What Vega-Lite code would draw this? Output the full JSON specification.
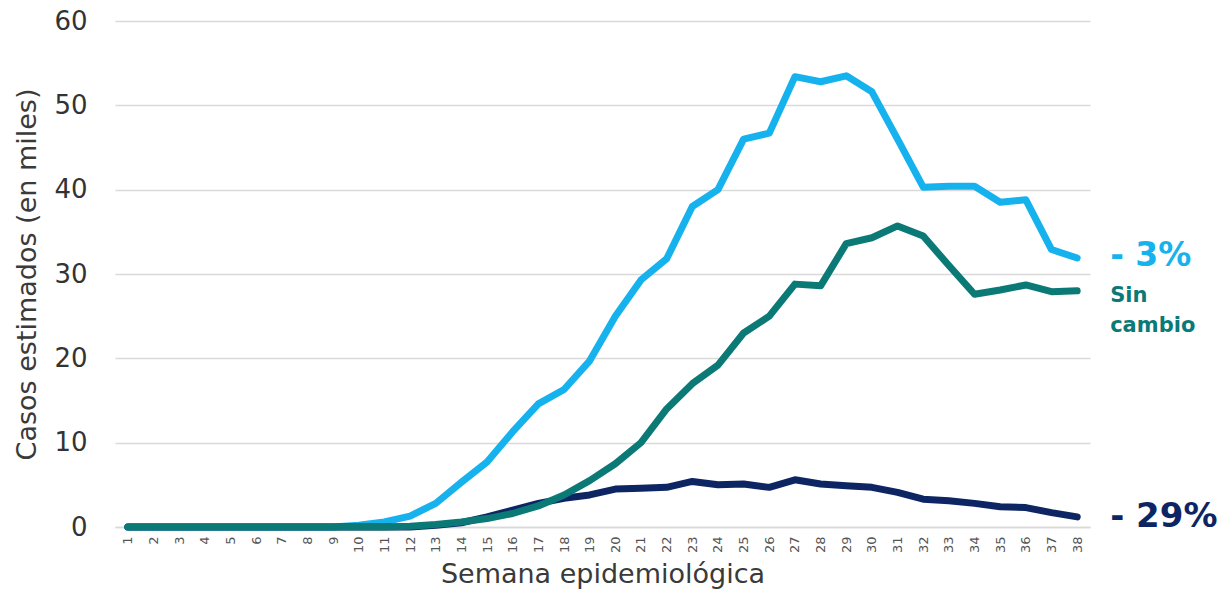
{
  "$schema": "https://vega.github.io/schema/vega-lite/v6.json",
  "width": 975,
  "height": 506,
  "autosize": "none",
  "padding": {"left": 115, "top": 21, "right": 132, "bottom": 73},
  "background": "white",
  "config": {
    "view": {"stroke": null},
    "font": "DejaVu Sans"
  },
  "datasets": {
    "series": [
      {"week": 1, "serie": "- 3%", "value": 0}, {"week": 2, "serie": "- 3%", "value": 0}, {"week": 3, "serie": "- 3%", "value": 0}, {"week": 4, "serie": "- 3%", "value": 0}, {"week": 5, "serie": "- 3%", "value": 0}, {"week": 6, "serie": "- 3%", "value": 0}, {"week": 7, "serie": "- 3%", "value": 0}, {"week": 8, "serie": "- 3%", "value": 0}, {"week": 9, "serie": "- 3%", "value": 0}, {"week": 10, "serie": "- 3%", "value": 0.2},
      {"week": 11, "serie": "- 3%", "value": 0.6}, {"week": 12, "serie": "- 3%", "value": 1.3}, {"week": 13, "serie": "- 3%", "value": 2.8}, {"week": 14, "serie": "- 3%", "value": 5.3}, {"week": 15, "serie": "- 3%", "value": 7.7}, {"week": 16, "serie": "- 3%", "value": 11.3}, {"week": 17, "serie": "- 3%", "value": 14.6}, {"week": 18, "serie": "- 3%", "value": 16.3}, {"week": 19, "serie": "- 3%", "value": 19.7}, {"week": 20, "serie": "- 3%", "value": 25.0},
      {"week": 21, "serie": "- 3%", "value": 29.3}, {"week": 22, "serie": "- 3%", "value": 31.8}, {"week": 23, "serie": "- 3%", "value": 38.0}, {"week": 24, "serie": "- 3%", "value": 40.0}, {"week": 25, "serie": "- 3%", "value": 46.0}, {"week": 26, "serie": "- 3%", "value": 46.7}, {"week": 27, "serie": "- 3%", "value": 53.4}, {"week": 28, "serie": "- 3%", "value": 52.8}, {"week": 29, "serie": "- 3%", "value": 53.5}, {"week": 30, "serie": "- 3%", "value": 51.6},
      {"week": 31, "serie": "- 3%", "value": 46.0}, {"week": 32, "serie": "- 3%", "value": 40.3}, {"week": 33, "serie": "- 3%", "value": 40.4}, {"week": 34, "serie": "- 3%", "value": 40.4}, {"week": 35, "serie": "- 3%", "value": 38.5}, {"week": 36, "serie": "- 3%", "value": 38.8}, {"week": 37, "serie": "- 3%", "value": 32.9}, {"week": 38, "serie": "- 3%", "value": 31.9},

      {"week": 1, "serie": "- 29%", "value": 0}, {"week": 2, "serie": "- 29%", "value": 0}, {"week": 3, "serie": "- 29%", "value": 0}, {"week": 4, "serie": "- 29%", "value": 0}, {"week": 5, "serie": "- 29%", "value": 0}, {"week": 6, "serie": "- 29%", "value": 0}, {"week": 7, "serie": "- 29%", "value": 0}, {"week": 8, "serie": "- 29%", "value": 0}, {"week": 9, "serie": "- 29%", "value": 0}, {"week": 10, "serie": "- 29%", "value": 0},
      {"week": 11, "serie": "- 29%", "value": 0}, {"week": 12, "serie": "- 29%", "value": 0}, {"week": 13, "serie": "- 29%", "value": 0.2}, {"week": 14, "serie": "- 29%", "value": 0.5}, {"week": 15, "serie": "- 29%", "value": 1.2}, {"week": 16, "serie": "- 29%", "value": 2.0}, {"week": 17, "serie": "- 29%", "value": 2.8}, {"week": 18, "serie": "- 29%", "value": 3.4}, {"week": 19, "serie": "- 29%", "value": 3.8}, {"week": 20, "serie": "- 29%", "value": 4.5},
      {"week": 21, "serie": "- 29%", "value": 4.6}, {"week": 22, "serie": "- 29%", "value": 4.7}, {"week": 23, "serie": "- 29%", "value": 5.4}, {"week": 24, "serie": "- 29%", "value": 5.0}, {"week": 25, "serie": "- 29%", "value": 5.1}, {"week": 26, "serie": "- 29%", "value": 4.7}, {"week": 27, "serie": "- 29%", "value": 5.6}, {"week": 28, "serie": "- 29%", "value": 5.1}, {"week": 29, "serie": "- 29%", "value": 4.9}, {"week": 30, "serie": "- 29%", "value": 4.7},
      {"week": 31, "serie": "- 29%", "value": 4.1}, {"week": 32, "serie": "- 29%", "value": 3.3}, {"week": 33, "serie": "- 29%", "value": 3.1}, {"week": 34, "serie": "- 29%", "value": 2.8}, {"week": 35, "serie": "- 29%", "value": 2.4}, {"week": 36, "serie": "- 29%", "value": 2.3}, {"week": 37, "serie": "- 29%", "value": 1.7}, {"week": 38, "serie": "- 29%", "value": 1.2},

      {"week": 1, "serie": "Sin cambio", "value": 0}, {"week": 2, "serie": "Sin cambio", "value": 0}, {"week": 3, "serie": "Sin cambio", "value": 0}, {"week": 4, "serie": "Sin cambio", "value": 0}, {"week": 5, "serie": "Sin cambio", "value": 0}, {"week": 6, "serie": "Sin cambio", "value": 0}, {"week": 7, "serie": "Sin cambio", "value": 0}, {"week": 8, "serie": "Sin cambio", "value": 0}, {"week": 9, "serie": "Sin cambio", "value": 0}, {"week": 10, "serie": "Sin cambio", "value": 0},
      {"week": 11, "serie": "Sin cambio", "value": 0}, {"week": 12, "serie": "Sin cambio", "value": 0.1}, {"week": 13, "serie": "Sin cambio", "value": 0.3}, {"week": 14, "serie": "Sin cambio", "value": 0.6}, {"week": 15, "serie": "Sin cambio", "value": 1.0}, {"week": 16, "serie": "Sin cambio", "value": 1.6}, {"week": 17, "serie": "Sin cambio", "value": 2.5}, {"week": 18, "serie": "Sin cambio", "value": 3.8}, {"week": 19, "serie": "Sin cambio", "value": 5.5}, {"week": 20, "serie": "Sin cambio", "value": 7.5},
      {"week": 21, "serie": "Sin cambio", "value": 10.0}, {"week": 22, "serie": "Sin cambio", "value": 14.0}, {"week": 23, "serie": "Sin cambio", "value": 17.0}, {"week": 24, "serie": "Sin cambio", "value": 19.2}, {"week": 25, "serie": "Sin cambio", "value": 23.0}, {"week": 26, "serie": "Sin cambio", "value": 25.0}, {"week": 27, "serie": "Sin cambio", "value": 28.8}, {"week": 28, "serie": "Sin cambio", "value": 28.6}, {"week": 29, "serie": "Sin cambio", "value": 33.6}, {"week": 30, "serie": "Sin cambio", "value": 34.3},
      {"week": 31, "serie": "Sin cambio", "value": 35.7}, {"week": 32, "serie": "Sin cambio", "value": 34.5}, {"week": 33, "serie": "Sin cambio", "value": 31.0}, {"week": 34, "serie": "Sin cambio", "value": 27.6}, {"week": 35, "serie": "Sin cambio", "value": 28.1}, {"week": 36, "serie": "Sin cambio", "value": 28.7}, {"week": 37, "serie": "Sin cambio", "value": 27.9}, {"week": 38, "serie": "Sin cambio", "value": 28.0}
    ],
    "labels": [
      {"week": 38, "serie": "- 3%", "value": 32.1, "label": "- 3%", "size": 33},
      {"week": 38, "serie": "Sin cambio", "value": 27.4, "label": "Sin\ncambio", "size": 21},
      {"week": 38, "serie": "- 29%", "value": 1.2, "label": "- 29%", "size": 34}
    ]
  },
  "layer": [
    {
      "data": {"name": "series"},
      "mark": {"type": "line", "strokeWidth": 7, "strokeCap": "round", "strokeJoin": "round"},
      "encoding": {
        "x": {
          "field": "week", "type": "ordinal",
          "scale": {"type": "point", "padding": 0.5},
          "axis": {
            "title": "Semana epidemiológica",
            "titleFontSize": 27, "titleFontWeight": "normal", "titleColor": "#3a3a3a", "titlePadding": 9,
            "labelAngle": -90, "labelFontSize": 13, "labelColor": "#555555", "labelPadding": 9,
            "ticks": false, "domain": true, "domainColor": "#d9d9d9", "domainWidth": 1.5, "grid": false
          }
        },
        "y": {
          "field": "value", "type": "quantitative",
          "scale": {"domain": [0, 60], "nice": false},
          "axis": {
            "title": "Casos estimados (en miles)",
            "titleFontSize": 27, "titleFontWeight": "normal", "titleColor": "#3a3a3a", "titlePadding": 12,
            "values": [0, 10, 20, 30, 40, 50, 60],
            "labelFontSize": 26, "labelColor": "#333333", "labelPadding": 28,
            "ticks": false, "domain": false,
            "grid": true, "gridColor": "#d9d9d9", "gridWidth": 1.5
          }
        },
        "color": {
          "field": "serie", "type": "nominal",
          "scale": {"domain": ["- 3%", "- 29%", "Sin cambio"], "range": ["#16b2ee", "#0e2563", "#0b7a77"]},
          "legend": null
        }
      }
    },
    {
      "data": {"name": "labels"},
      "mark": {"type": "text", "align": "left", "baseline": "middle", "dx": 33, "fontWeight": "bold", "lineBreak": "\n", "lineHeight": 30},
      "encoding": {
        "x": {"field": "week", "type": "ordinal"},
        "y": {"field": "value", "type": "quantitative"},
        "text": {"field": "label"},
        "size": {"field": "size", "type": "quantitative", "scale": null, "legend": null},
        "color": {"field": "serie", "type": "nominal", "legend": null}
      }
    }
  ]
}
